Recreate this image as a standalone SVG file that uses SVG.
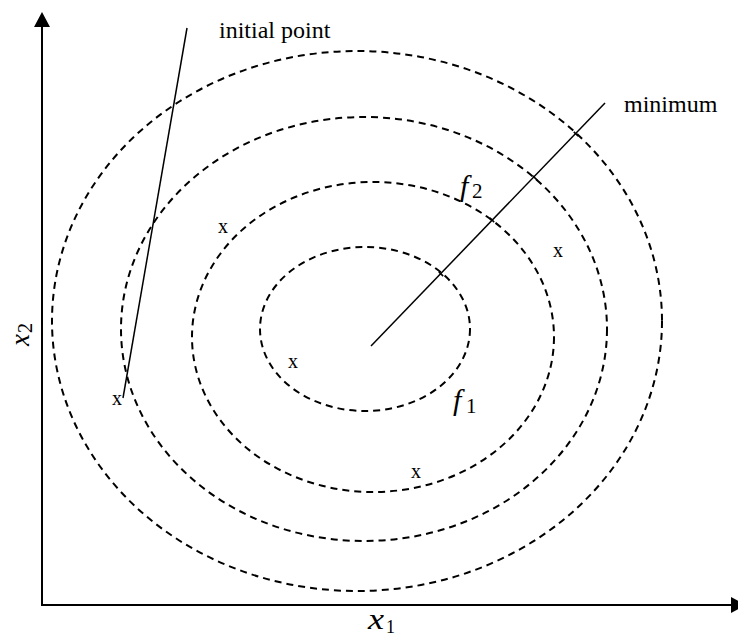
<svg xmlns="http://www.w3.org/2000/svg" width="738" height="638" viewBox="0 0 738 638">
<style>
.contour{fill:none;stroke:#000;stroke-width:2;stroke-dasharray:7 5}
.axis{stroke:#000;stroke-width:2;fill:none}
.path{stroke:#000;stroke-width:1.5;fill:none}
.lbl{font-family:"Liberation Serif","Times New Roman",serif;fill:#000}
.mk{font-family:"Liberation Serif","Times New Roman",serif;font-size:20px;fill:#000}
.it{font-style:italic}
</style>
<rect width="738" height="638" fill="#fff"/>
<g id="contours">
<ellipse id="contour-outer" class="contour" cx="357" cy="321" rx="305" ry="270"/>
<ellipse id="contour-3" class="contour" cx="364" cy="329" rx="243" ry="212"/>
<ellipse id="contour-f2" class="contour" cx="373" cy="337" rx="181" ry="155"/>
<ellipse id="contour-f1" class="contour" cx="365" cy="329" rx="105" ry="82"/>
</g>
<g id="axes">
<line class="axis" x1="42" y1="26" x2="42" y2="605"/>
<polygon points="42,12 34,27 50,27" fill="#000"/>
<line class="axis" x1="41" y1="605" x2="732" y2="605"/>
<polygon points="746,605 731,597 731,613" fill="#000"/>
</g>
<g id="connectors">
<line id="initial-line" class="path" x1="187" y1="28" x2="123" y2="398"/>
<line id="minimum-line" class="path" x1="371" y1="346" x2="605" y2="103"/>
<g class="path">
<line x1="438.8" y1="271.9" x2="443.2" y2="276.1"/>
<line x1="489.8" y1="217.9" x2="494.2" y2="222.1"/>
<line x1="532.8" y1="175.9" x2="537.2" y2="180.1"/>
<line x1="573.8" y1="131.9" x2="578.2" y2="136.1"/>
</g>
</g>
<g id="label-initial"><text class="lbl" x="219" y="38" font-size="24">initial point</text></g>
<g id="label-minimum"><text class="lbl" x="624" y="112" font-size="24">minimum</text></g>
<g id="label-f2"><text class="lbl it" x="460" y="196" font-size="30">f</text><text class="lbl" x="472" y="198" font-size="21">2</text></g>
<g id="label-f1"><text class="lbl it" x="453" y="410" font-size="30">f</text><text class="lbl" x="466" y="413" font-size="21">1</text></g>
<g id="label-x1"><text class="lbl it" x="368" y="629" font-size="29" textLength="16" lengthAdjust="spacingAndGlyphs">x</text><text class="lbl" x="386" y="633" font-size="18">1</text></g>
<g id="label-x2" transform="translate(29,346) rotate(-90)"><text class="lbl it" x="0" y="0" font-size="27">x</text><text class="lbl" x="13" y="3" font-size="20">2</text></g>
<g id="markers">
<text class="mk" x="218" y="233">x</text>
<text class="mk" x="288" y="368">x</text>
<text class="mk" x="112" y="405">x</text>
<text class="mk" x="411" y="478">x</text>
<text class="mk" x="553" y="257">x</text>
</g>
</svg>
